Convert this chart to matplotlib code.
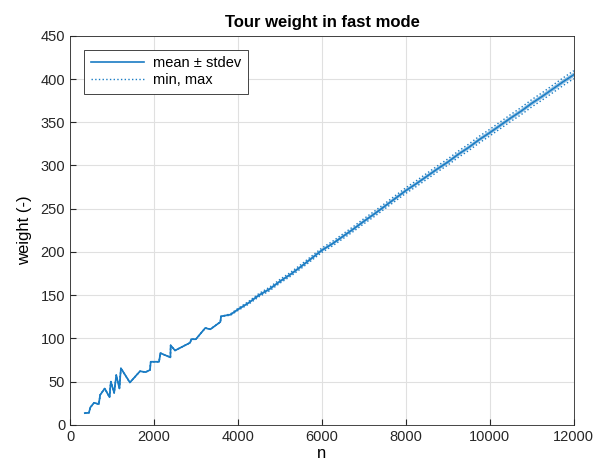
import matplotlib.pyplot as plt
import numpy as np

plt.rcParams['font.family'] = ['Liberation Sans', 'DejaVu Sans']

# graph size n and mean tour weight
n = [350, 450, 480, 570, 685, 715, 825, 940, 970, 1050, 1100, 1175, 1210,
     1425, 1665, 1800, 1905, 1920, 2120, 2150, 2390, 2395, 2500, 2860, 2885,
     2995, 3220, 3340, 3580, 3595, 3820, 4000, 4250, 4500, 4750, 5000, 5250,
     5500, 5750, 6000, 6250, 6500, 6750, 7000, 7250, 7500, 7750, 8000, 8250,
     8500, 8750, 9000, 9250, 9500, 9750, 10000, 10250, 10500, 10750, 11000,
     11250, 11500, 11750, 12000]
mean = [13.5, 14, 20, 25.5, 24, 34.5, 42, 32, 50, 37, 57.5, 42, 65.5,
        49, 62, 61, 63.5, 73, 73, 83, 78, 92, 86, 95, 99,
        99, 112, 110.5, 119, 125.5, 127.5, 133.5, 141, 150, 157, 166, 174,
        183, 192.5, 202, 209.5, 218, 226.5, 235.5, 244, 253, 262, 271, 279,
        287.5, 296, 304, 313, 321, 330, 338, 346.5, 355, 363, 372,
        380, 388.5, 397, 405]
stdev = [0, 0, 0, 0, 0, 0, 0, 0, 0, 0, 0, 0, 0,
         0, 0, 0, 0, 0, 0, 0, 0, 0, 0, 0, 0,
         0, 0, 0, 0, 0, 0.3, 0.5, 0.6, 0.7, 0.8, 0.8, 0.9,
         0.9, 1.0, 1.0, 1.0, 1.1, 1.1, 1.2, 1.2, 1.2, 1.3, 1.3, 1.3,
         1.4, 1.4, 1.4, 1.5, 1.5, 1.5, 1.6, 1.6, 1.6, 1.7, 1.7,
         1.7, 1.8, 1.8, 1.8]
spread_lo = [0, 0, 0, 0, 0, 0, 0, 0, 0, 0, 0, 0, 0,
             0, 0, 0, 0, 0, 0, 0, 0, 0, 0, 0, 0,
             0, 0, 0, 0, 0, 0.8, 1.2, 1.5, 1.8, 2.0, 2.1, 2.2,
             2.3, 2.4, 2.5, 2.6, 2.7, 2.8, 2.9, 3.0, 3.0, 3.1, 3.2, 3.3,
             3.4, 3.4, 3.5, 3.6, 3.7, 3.8, 3.8, 3.9, 4.0, 4.1, 4.2,
             4.2, 4.3, 4.4, 4.5]
spread_hi = [0, 0, 0, 0, 0, 0, 0, 0, 0, 0, 0, 0, 0,
             0, 0, 0, 0, 0, 0, 0, 0, 0, 0, 0, 0,
             0, 0, 0, 0, 0, 0.8, 1.2, 1.6, 1.9, 2.1, 2.2, 2.3,
             2.4, 2.5, 2.6, 2.7, 2.8, 2.9, 3.0, 3.1, 3.1, 3.2, 3.3, 3.4,
             3.5, 3.5, 3.6, 3.7, 3.8, 3.9, 3.9, 4.0, 4.1, 4.2, 4.3,
             4.3, 4.4, 4.5, 4.6]

n = np.array(n)
mean = np.array(mean)
stdev = np.array(stdev)
wmin = mean - np.array(spread_lo)
wmax = mean + np.array(spread_hi)

color = '#1a7cc4'

fig = plt.figure(figsize=(5.94, 4.71), dpi=100)
ax = fig.add_axes([0.118, 0.098, 0.848, 0.826])

ax.plot(n, mean, '-', color=color, linewidth=1.2, label='mean \u00b1 stdev')
ax.plot(n, mean + stdev, '-', color=color, linewidth=0.8, alpha=0.5)
ax.plot(n, mean - stdev, '-', color=color, linewidth=0.8, alpha=0.5)
ax.plot(n, wmin, ':', color=color, linewidth=1.0, label='min, max')
ax.plot(n, wmax, ':', color=color, linewidth=1.0)

ax.set_xlim(0, 12000)
ax.set_ylim(0, 450)
ax.set_xticks(np.arange(0, 12001, 2000))
ax.set_yticks(np.arange(0, 451, 50))
ax.grid(True, color='#e0e0e0', linewidth=0.8)
ax.set_axisbelow(True)
ax.tick_params(direction='in', length=4, labelsize=10.5, colors='#262626')
for s in ax.spines.values():
    s.set_color('#262626')
    s.set_linewidth(0.6)

ax.set_title('Tour weight in fast mode', fontsize=12, fontweight='bold', pad=6)
ax.set_xlabel('n', fontsize=12, labelpad=2)
ax.set_ylabel('weight (-)', fontsize=12, labelpad=6)

leg = ax.legend(loc='upper left', fontsize=10.5, fancybox=False, framealpha=1,
                edgecolor='#262626', handlelength=3.7, borderpad=0.45,
                labelspacing=0.2, borderaxespad=0.95, handletextpad=0.6)
leg.get_frame().set_linewidth(0.6)

fig.savefig('out.png', dpi=100)
